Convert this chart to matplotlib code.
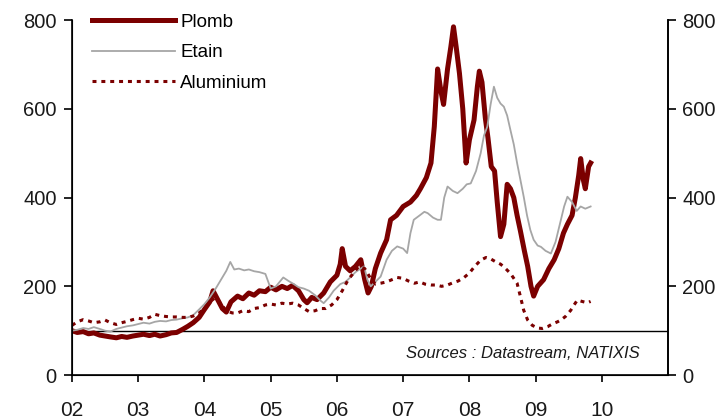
import matplotlib
matplotlib.use("Agg")
import matplotlib.pyplot as plt
from matplotlib import font_manager

plt.rcParams['font.family'] = ['Liberation Sans', 'DejaVu Sans']

# prices, base 100 = Jan 2002
plomb_x = [2002.00, 2002.08, 2002.17, 2002.25, 2002.33, 2002.42, 2002.50, 2002.58, 2002.67, 2002.75,
           2002.83, 2002.92, 2003.00, 2003.08, 2003.17, 2003.25, 2003.33, 2003.42, 2003.50, 2003.58,
           2003.67, 2003.75, 2003.83, 2003.92, 2004.00, 2004.08, 2004.13, 2004.20, 2004.27, 2004.33,
           2004.40, 2004.50, 2004.58, 2004.67, 2004.75, 2004.83, 2004.92, 2005.00, 2005.08, 2005.17,
           2005.25, 2005.33, 2005.42, 2005.50, 2005.55, 2005.62, 2005.70, 2005.80, 2005.90, 2006.00,
           2006.05, 2006.08, 2006.13, 2006.20, 2006.28, 2006.36, 2006.42, 2006.47, 2006.52, 2006.58,
           2006.66, 2006.75, 2006.81, 2006.90, 2007.00, 2007.11, 2007.20, 2007.26, 2007.35, 2007.42,
           2007.47, 2007.52, 2007.57, 2007.61, 2007.67, 2007.72, 2007.76, 2007.80, 2007.85, 2007.90,
           2007.95, 2008.00, 2008.07, 2008.12, 2008.15, 2008.19, 2008.24, 2008.28, 2008.33, 2008.38,
           2008.42, 2008.47, 2008.52, 2008.57, 2008.62, 2008.67, 2008.72, 2008.77, 2008.83, 2008.88,
           2008.93, 2008.97, 2009.03, 2009.12, 2009.20, 2009.28, 2009.35, 2009.42, 2009.48, 2009.55,
           2009.60, 2009.65, 2009.68, 2009.72, 2009.75, 2009.80, 2009.83]
plomb = [100, 96, 98, 93, 95, 90, 88, 86, 84, 87,
         85, 88, 90, 92, 89, 92, 88, 91, 95, 96,
         103, 110, 118, 130, 148, 165, 190, 170, 150, 142,
         165, 178, 172, 185, 180, 190, 188, 198, 192, 200,
         195, 202, 190, 170, 163, 175, 170, 185, 210, 225,
         250, 285, 245, 235, 245, 260, 215, 185, 200, 240,
         275, 305, 350, 360, 380, 390, 405, 420, 445, 478,
         560, 690, 640, 610, 690, 740, 785, 740, 680, 600,
         478, 530, 575, 650, 685, 660, 580, 535, 470, 460,
         390, 312, 340, 430, 420, 400, 360, 325, 280, 245,
         200, 178, 200, 215, 240, 260, 285, 320, 340, 360,
         400, 450, 488, 440, 420, 470, 478]

etain_x = [2002.00, 2002.08, 2002.17, 2002.25, 2002.33, 2002.42, 2002.50, 2002.58, 2002.67, 2002.75,
           2002.83, 2002.92, 2003.00, 2003.08, 2003.17, 2003.25, 2003.33, 2003.42, 2003.50, 2003.58,
           2003.67, 2003.75, 2003.83, 2003.92, 2004.00, 2004.08, 2004.17, 2004.25, 2004.33, 2004.39,
           2004.45, 2004.52, 2004.60, 2004.67, 2004.75, 2004.83, 2004.92, 2005.00, 2005.08, 2005.19,
           2005.27, 2005.35, 2005.42, 2005.50, 2005.58, 2005.67, 2005.75, 2005.80, 2005.88, 2005.95,
           2006.05, 2006.13, 2006.20, 2006.28, 2006.36, 2006.41, 2006.46, 2006.51, 2006.58, 2006.66,
           2006.75, 2006.83, 2006.91, 2007.00, 2007.06, 2007.11, 2007.16, 2007.25, 2007.32, 2007.37,
           2007.45, 2007.52, 2007.57, 2007.62, 2007.67, 2007.75, 2007.82, 2007.90, 2007.96, 2008.02,
           2008.10, 2008.17, 2008.22, 2008.27, 2008.32, 2008.37, 2008.42, 2008.47, 2008.52, 2008.57,
           2008.62, 2008.67, 2008.72, 2008.77, 2008.82, 2008.87, 2008.92, 2008.97, 2009.03, 2009.08,
           2009.15, 2009.23, 2009.30, 2009.38, 2009.43, 2009.48, 2009.55, 2009.62, 2009.68, 2009.75,
           2009.83]
etain = [100, 102, 106, 104, 108, 104, 100, 98, 104, 107,
         110, 112, 115, 118, 116, 120, 122, 121, 124, 125,
         128, 130, 135, 148, 160, 175, 195, 215, 235, 255,
         238, 240, 236, 238, 234, 232, 228, 195, 200, 220,
         212, 205, 198, 195, 190, 180, 168, 162, 175, 190,
         205, 210, 220, 232, 240, 245, 215, 200, 210, 222,
         260, 280, 290, 285, 275, 320, 350, 360, 368, 365,
         355, 350, 350, 400, 425, 415, 410, 420, 430, 432,
         460, 500, 540, 560, 610, 650, 625, 612, 605, 585,
         552, 520, 478, 440, 402, 360, 327, 305, 292, 289,
         280, 274, 300, 349, 380, 402, 390, 370, 380, 375,
         380]

alu_x = [2002.00, 2002.08, 2002.17, 2002.25, 2002.33, 2002.42, 2002.50, 2002.58, 2002.67, 2002.75,
         2002.83, 2002.92, 2003.00, 2003.08, 2003.17, 2003.25, 2003.33, 2003.42, 2003.50, 2003.58,
         2003.67, 2003.75, 2003.83, 2003.92, 2004.00, 2004.08, 2004.17, 2004.25, 2004.33, 2004.42,
         2004.50, 2004.58, 2004.67, 2004.75, 2004.83, 2004.92, 2005.00, 2005.08, 2005.17, 2005.25,
         2005.33, 2005.42, 2005.50, 2005.58, 2005.67, 2005.75, 2005.83, 2005.92, 2006.00, 2006.08,
         2006.17, 2006.25, 2006.33, 2006.42, 2006.50, 2006.58, 2006.66, 2006.75, 2006.83, 2006.91,
         2007.00, 2007.08, 2007.17, 2007.25, 2007.33, 2007.42, 2007.50, 2007.58, 2007.67, 2007.75,
         2007.83, 2007.92, 2008.00, 2008.08, 2008.17, 2008.25, 2008.32, 2008.40, 2008.47, 2008.52,
         2008.58, 2008.62, 2008.67, 2008.72, 2008.77, 2008.82, 2008.88, 2008.95, 2009.03, 2009.10,
         2009.18, 2009.25, 2009.33, 2009.38, 2009.45, 2009.53, 2009.58, 2009.63, 2009.70, 2009.78,
         2009.83]
alu = [112, 120, 125, 122, 118, 120, 124, 118, 114, 118,
       121, 125, 128, 126, 130, 137, 134, 132, 131, 131,
       130, 130, 133, 140, 150, 165, 175, 160, 145, 140,
       140, 145, 143, 150, 152, 158, 160, 158, 162, 160,
       162, 158, 150, 143, 145, 150, 150, 158, 170, 190,
       215, 230, 245, 240, 220, 205, 207, 210, 215, 220,
       218, 212, 207, 210, 205, 203, 203, 200, 203, 208,
       212, 220, 230, 245, 259, 265, 262, 255, 250, 244,
       235, 229, 218, 207, 177, 146, 124, 112, 106, 105,
       109, 115, 120, 124, 132, 146, 158, 169, 166, 163,
       166]

year_ticks = [2002, 2003, 2004, 2005, 2006, 2007, 2008, 2009, 2010]
year_labels = ['02', '03', '04', '05', '06', '07', '08', '09', '10']
y_ticks = [0, 200, 400, 600, 800]

dark_red = '#7b0000'
grey = '#a6a6a6'
txt = '#1a1a1a'

# the x labels and the source line are in a condensed face
installed = {f.name for f in font_manager.fontManager.ttflist}
narrow = 'Liberation Sans Narrow' in installed
cond_family = ['Liberation Sans Narrow', 'DejaVu Sans'] if narrow else ['Liberation Sans', 'DejaVu Sans']
xlab_size = 18 if narrow else 15
src_size = 14 if narrow else 12

fig = plt.figure(figsize=(7.27, 4.2), dpi=100)
ax = fig.add_axes([0.099, 0.107, 0.82, 0.845])

ax.plot(plomb_x, plomb, color=dark_red, lw=3.6, label='Plomb', zorder=3)
ax.plot(etain_x, etain, color=grey, lw=1.3, label='Etain', zorder=4)
ax.plot(alu_x, alu, color=dark_red, lw=2.2, linestyle=(0, (1.3, 1.6)), label='Aluminium', zorder=5)
ax.axhline(100, color='black', lw=1, zorder=2)

ax.set_xlim(2002, 2011)
ax.set_ylim(0, 800)
ax.set_xticks(year_ticks)
ax.set_xticklabels(year_labels, family=cond_family, fontsize=xlab_size, color=txt)
ax.set_yticks(y_ticks)
ax.spines['top'].set_visible(False)
for s in ['left', 'right', 'bottom']:
    ax.spines[s].set_linewidth(1.2)
ax.tick_params(axis='x', direction='out', length=5, width=1.2, pad=14)
ax.tick_params(axis='y', direction='out', length=6, width=1.2, pad=5, labelsize=14.5, labelcolor=txt)

ax2 = ax.twinx()
ax2.set_ylim(0, 800)
ax2.set_yticks(y_ticks)
ax2.spines['top'].set_visible(False)
ax2.spines['right'].set_linewidth(1.2)
ax2.tick_params(axis='y', direction='out', length=6, width=1.2, pad=4, labelsize=14.5, labelcolor=txt)

ax.text(0.953, 0.06, 'Sources : Datastream, NATIXIS', transform=ax.transAxes,
        ha='right', va='center', fontsize=src_size, style='italic', color=txt, family=cond_family)

ax.legend(loc='upper left', bbox_to_anchor=(0.018, 1.045), frameon=False, fontsize=13.5,
          handlelength=4.4, handletextpad=0.3, labelspacing=0.72, borderpad=0)

fig.savefig('out.png', dpi=100)
